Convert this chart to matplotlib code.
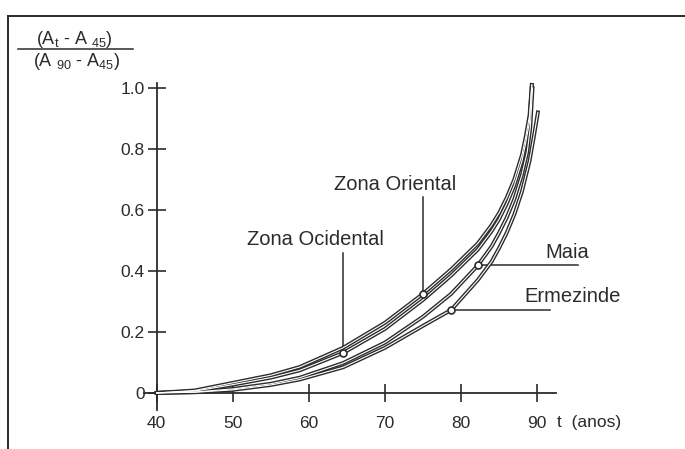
import matplotlib
matplotlib.use("Agg")
import matplotlib.pyplot as plt
from matplotlib.lines import Line2D

plt.rcParams['font.family'] = ['Liberation Sans', 'DejaVu Sans']
plt.rcParams['mathtext.fontset'] = 'custom'
plt.rcParams['mathtext.rm'] = 'Liberation Sans'
plt.rcParams['mathtext.it'] = 'Liberation Sans'

# === DATA ===
t_top = [40, 45, 50, 55, 58.8, 64.5, 70, 75, 78.7, 82.2, 84, 85, 86, 87, 88, 88.5, 89, 89.3]
oriental = [0, 0.008, 0.033, 0.058, 0.085, 0.148, 0.23, 0.325, 0.405, 0.49,
            0.55, 0.59, 0.64, 0.70, 0.78, 0.84, 0.91, 1.01]
ocidental = [0, 0.006, 0.027, 0.05, 0.074, 0.131, 0.21, 0.305, 0.385, 0.47,
             0.53, 0.57, 0.62, 0.68, 0.76, 0.82, 0.89, 1.01]

t_maia = [40, 45, 50, 55, 58.8, 64.5, 70, 75, 78.7, 82.2, 84, 85, 86, 87, 88, 88.7, 89.1, 89.4]
maia = [0, 0.003, 0.013, 0.03, 0.05, 0.098, 0.165, 0.25, 0.325, 0.418,
        0.48, 0.525, 0.575, 0.635, 0.715, 0.79, 0.87, 1.0]

t_erm = [40, 45, 50, 55, 58.8, 64.5, 70, 75, 78.7, 82.2, 84, 85, 86, 87, 88, 89, 89.6, 90.1]
ermezinde = [0, 0.002, 0.01, 0.026, 0.044, 0.084, 0.148, 0.22, 0.272, 0.37,
             0.43, 0.475, 0.525, 0.585, 0.66, 0.76, 0.845, 0.92]

x_ticks = [40, 50, 60, 70, 80, 90]
y_ticks = [0, 0.2, 0.4, 0.6, 0.8, 1.0]
y_ticklabels = ["0", "0.2", "0.4", "0.6", "0.8", "1.0"]

# label name, marker point (t, value), label anchor (t, value), leader type, leader end
labels = [
    ("Zona Ocidental", (64.5, 0.131), (60.8, 0.502), "v", 0.459),
    ("Zona Oriental", (75.0, 0.325), (71.3, 0.682), "v", 0.643),
    ("Maia", (82.2, 0.418), (93.9, 0.459), "h", 95.4),
    ("Ermezinde", (78.7, 0.272), (94.7, 0.315), "h", 91.7),
]

ink = "#2b2b2b"

# === FIGURE ===
fig = plt.figure(figsize=(6.85, 4.49), dpi=100)
ax = fig.add_axes([0.2099, 0.0869, 0.602, 0.728])
ax.set_xlim(38.3, 92.5)
ax.set_ylim(-0.056, 1.016)
ax.patch.set_alpha(0)

for s in ["top", "right"]:
    ax.spines[s].set_visible(False)
ax.spines["left"].set_position(("data", 40))
ax.spines["bottom"].set_position(("data", 0))
for s in ["left", "bottom"]:
    ax.spines[s].set_color(ink)
    ax.spines[s].set_linewidth(1.3)

ax.set_xticks(x_ticks)
ax.set_xticklabels([str(v) for v in x_ticks])
ax.set_yticks(y_ticks)
ax.set_yticklabels(y_ticklabels)
ax.tick_params(axis="both", direction="inout", length=13, width=1.2,
               color=ink, labelcolor=ink, labelsize=12.5)
ax.tick_params(axis="x", pad=10)
ax.tick_params(axis="y", pad=2)

# curves drawn as hollow double strokes like the original
for tt, vv in [(t_top, oriental), (t_top, ocidental), (t_maia, maia), (t_erm, ermezinde)]:
    ax.plot(tt, vv, color=ink, lw=2.8, solid_joinstyle="round", clip_on=False, zorder=3)
    ax.plot(tt, vv, color="white", lw=0.8, solid_joinstyle="round", clip_on=False, zorder=4)

# leaders, markers and labels
for name, (mt, mv), (lt, lv), kind, end in labels:
    if kind == "v":
        ax.plot([mt, mt], [mv, end], color=ink, lw=1.1, clip_on=False, zorder=2)
    else:
        ax.plot([mt, end], [mv, mv], color=ink, lw=1.1, clip_on=False, zorder=2)
    ax.plot(mt, mv, "o", ms=5, mfc="white", mec=ink, mew=1.2, clip_on=False, zorder=5)
    ax.text(lt, lv, name, ha="center", va="center", fontsize=14.5, color=ink, clip_on=False)

# x axis unit label
ax.text(92.6, -0.098, "t  (anos)", ha="left", va="center", fontsize=12.5, color=ink, clip_on=False)

# y axis label as a fraction
fig.text(74 / 685, 1 - 40 / 449, r"(A$_{t}$ - A $_{45}$)", ha="center", va="center",
         fontsize=13, color=ink)
fig.text(77 / 685, 1 - 62 / 449, r"(A $_{90}$ - A$_{45}$)", ha="center", va="center",
         fontsize=13, color=ink)
fig.add_artist(Line2D([18 / 685, 133 / 685], [1 - 49 / 449, 1 - 49 / 449],
                      color=ink, lw=1.1))

# scanned page frame (top and left edges)
fig.add_artist(Line2D([8 / 685, 1.0], [1 - 16 / 449, 1 - 16 / 449], color=ink, lw=1.4))
fig.add_artist(Line2D([8 / 685, 8 / 685], [0.0, 1 - 16 / 449], color=ink, lw=1.4))

fig.savefig("out.png", dpi=100)
